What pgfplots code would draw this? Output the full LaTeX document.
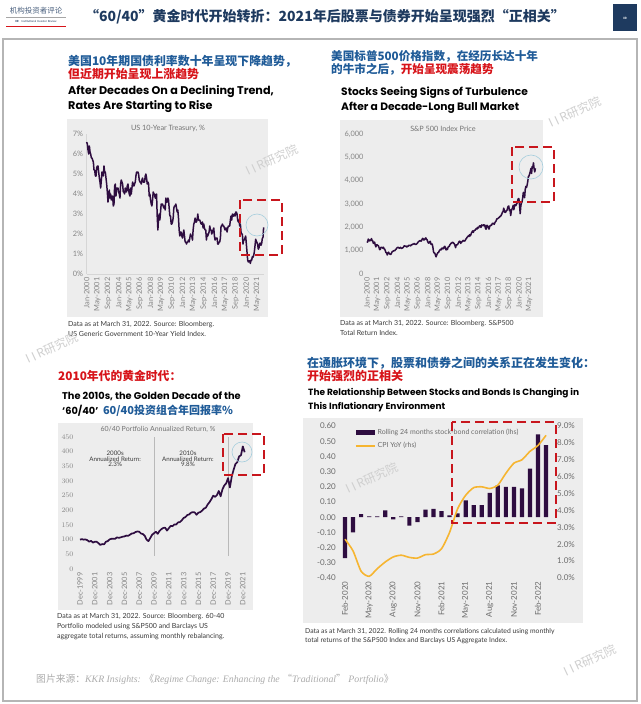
\documentclass[border=0pt]{standalone}
\usepackage{pgfplots}
\pgfplotsset{compat=1.18}
\usepackage{fontspec}
\setmainfont{Lato}
\newfontfamily\head{Poppins}
\newfontfamily\cjk{Noto Sans CJK SC}
\newfontfamily\serifit{Liberation Serif}
\newcommand\fs[1]{\fontsize{#1}{#1}\selectfont}
\definecolor{navy}{HTML}{1E3A5F}
\definecolor{hblue}{HTML}{1F5B98}
\definecolor{hred}{HTML}{D7141A}
\definecolor{purp}{HTML}{2E0D40}
\definecolor{gold}{HTML}{F6B531}
\definecolor{bgc}{HTML}{EDEDED}
\definecolor{tickc}{HTML}{858585}
\definecolor{srcc}{HTML}{3A3A3A}
\definecolor{redbox}{HTML}{C8161D}
\definecolor{circc}{HTML}{A6CEDD}
\definecolor{wm}{HTML}{CFCFCF}
\definecolor{gridc}{HTML}{D6D6D6}
\definecolor{framec}{HTML}{B5B5B5}
\pgfplotsset{
  panel/.style={scale only axis, anchor=south west, axis line style={draw=none},
    major tick length=0pt, tick label style={font=\fs{7.4}, text=tickc},
    xticklabel style={rotate=90, anchor=east}, clip=false},
}
\tikzset{redbox/.style={draw=redbox, line width=2.6pt, dash pattern=on 9pt off 5pt},
  circ/.style={draw=circc, line width=0.6pt},
  wmk/.style={text=wm, rotate=25, font=\cjk\fs{12}}}
\begin{document}
\begin{tikzpicture}[x=1pt,y=1pt]
\path[use as bounding box, fill=white] (0,0) rectangle (640,-704);
% header
\node[font=\cjk\fs{7.5}, text=navy!80, inner sep=0] at (36,-11) {机构投资者评论};
\draw[gray!70, line width=0.4pt] (6,-17) -- (66,-17);
\node[font=\fs{2.8}, text=navy, inner sep=0] at (36,-21.5) {\textbf{IIR}\quad Institutional Investor Review};
\draw[hred, line width=1pt] (6,-26) -- (66,-26);
\node[font=\cjk\bfseries\fs{14}, text=navy, inner sep=0] at (325,-17) {“60/40”黄金时代开始转折：2021年后股票与债券开始呈现强烈“正相关”};
\fill[navy] (613,-4) rectangle (637,-31);
\node[font=\fs{3}, text=white, inner sep=0] at (625,-18) {\textbf{IIR}};
\draw[framec, line width=1.5pt] (3,-39) rectangle (637,-701);

% ================= panel 1
\node[anchor=west, inner sep=0, font=\cjk\bfseries\fs{11.9}, text=hblue] at (68,-61.5) {美国10年期国债利率数十年呈现下降趋势，};
\node[anchor=west, inner sep=0, font=\cjk\bfseries\fs{11.9}, text=hred] at (68,-74) {但近期开始呈现上涨趋势};
\node[anchor=west, inner sep=0, font=\head\bfseries\fs{11.2}] at (68,-91.5) {After Decades On a Declining Trend,};
\node[anchor=west, inner sep=0, font=\head\bfseries\fs{11.2}] at (68,-106.5) {Rates Are Starting to Rise};
\fill[bgc] (67,-118.5) rectangle (268,-317);
\node[font=\fs{7.3}, text=gray!90!black] at (168,-128) {US 10-Year Treasury, \%};
\begin{axis}[panel, at={(86.7pt,-274pt)}, width=177.6pt, height=140pt,
  xmin=0, xmax=267, ymin=0, ymax=7,
  ytick={0,1,2,3,4,5,6,7}, yticklabels={0\%,1\%,2\%,3\%,4\%,5\%,6\%,7\%},
  xtick={0,16,...,256},
  xticklabels={Jan-2000,May-2001,Sep-2002,Jan-2004,May-2005,Sep-2006,Jan-2008,May-2009,Sep-2010,Jan-2012,May-2013,Sep-2014,Jan-2016,May-2017,Sep-2018,Jan-2020,May-2021}]
\draw[gridc, line width=0.5pt] (axis cs:0,0) -- (axis cs:267,0);
\draw[gridc, line width=0.5pt] (axis cs:0,0) -- (axis cs:0,7);
\addplot[purp, line width=1.5pt, no marks, line join=round] table[x expr=\coordindex, y index=0, header=false, row sep=\\] {
6.6\\6.5\\6.2\\6.0\\6.4\\6.1\\6.0\\5.8\\5.8\\5.7\\5.6\\5.2\\
5.2\\4.9\\4.9\\5.3\\5.4\\5.4\\5.1\\4.8\\4.6\\4.3\\4.7\\5.1\\
5.0\\4.9\\5.4\\5.1\\5.1\\4.8\\4.5\\4.1\\3.6\\3.9\\4.2\\3.8\\
4.0\\3.7\\3.8\\3.9\\3.4\\3.5\\4.4\\4.5\\3.9\\4.3\\4.3\\4.3\\
4.1\\4.0\\3.8\\4.5\\4.7\\4.6\\4.5\\4.1\\4.1\\4.0\\4.3\\4.2\\
4.1\\4.4\\4.5\\4.2\\4.0\\3.9\\4.3\\4.0\\4.3\\4.6\\4.5\\4.4\\
4.5\\4.6\\4.9\\5.1\\5.1\\5.1\\5.0\\4.7\\4.6\\4.6\\4.5\\4.7\\
4.8\\4.6\\4.6\\4.6\\4.9\\5.0\\4.8\\4.5\\4.6\\4.5\\3.9\\4.0\\
3.7\\3.5\\3.4\\3.7\\4.1\\4.0\\4.0\\3.8\\3.8\\4.0\\2.9\\2.2\\
2.8\\3.0\\2.7\\3.1\\3.5\\3.5\\3.5\\3.4\\3.3\\3.4\\3.2\\3.8\\
3.6\\3.6\\3.8\\3.7\\3.3\\2.9\\2.9\\2.5\\2.5\\2.6\\2.8\\3.3\\
3.4\\3.4\\3.5\\3.3\\3.1\\3.2\\2.8\\2.2\\1.9\\2.1\\2.1\\1.9\\
1.8\\2.0\\2.2\\1.9\\1.6\\1.6\\1.5\\1.6\\1.6\\1.7\\1.6\\1.8\\
2.0\\1.9\\1.9\\1.7\\2.2\\2.5\\2.6\\2.8\\2.6\\2.6\\2.7\\3.0\\
2.7\\2.7\\2.7\\2.6\\2.5\\2.5\\2.6\\2.3\\2.5\\2.3\\2.2\\2.2\\
1.7\\2.0\\1.9\\2.0\\2.1\\2.4\\2.2\\2.2\\2.0\\2.1\\2.2\\2.3\\
1.9\\1.7\\1.8\\1.8\\1.8\\1.5\\1.5\\1.6\\1.6\\1.8\\2.4\\2.4\\
2.5\\2.4\\2.4\\2.3\\2.2\\2.3\\2.3\\2.1\\2.3\\2.4\\2.4\\2.4\\
2.7\\2.9\\2.7\\3.0\\2.9\\2.9\\3.0\\2.9\\3.1\\3.1\\3.0\\2.7\\
2.6\\2.7\\2.4\\2.5\\2.1\\2.0\\2.0\\1.5\\1.7\\1.7\\1.8\\1.9\\
1.5\\1.1\\0.7\\0.6\\0.65\\0.66\\0.53\\0.7\\0.68\\0.87\\0.84\\0.92\\
1.1\\1.4\\1.74\\1.63\\1.58\\1.47\\1.24\\1.31\\1.52\\1.55\\1.44\\1.52\\
1.78\\1.83\\2.33\\
};
\end{axis}
\node[anchor=west, inner sep=0, font=\fs{7}, text=srcc] at (68,-325) {Data as at March 31, 2022. Source: Bloomberg.};
\node[anchor=west, inner sep=0, font=\fs{7}, text=srcc] at (68,-334) {US Generic Government 10-Year Yield Index.};
\draw[circ] (257,-225) circle (11);
\draw[redbox] (240,-200) rectangle (282,-255);

% ================= panel 2
\node[anchor=west, inner sep=0, font=\cjk\bfseries\fs{11.6}, text=hblue] at (331,-56) {美国标普500价格指数，在经历长达十年};
\node[anchor=west, inner sep=0, font=\cjk\bfseries\fs{11.6}, text=hblue] at (331,-69) {的牛市之后，\textcolor{hred}{开始呈现震荡趋势}};
\node[anchor=west, inner sep=0, font=\head\bfseries\fs{10.7}] at (341,-93) {Stocks Seeing Signs of Turbulence};
\node[anchor=west, inner sep=0, font=\head\bfseries\fs{10.7}] at (341,-108) {After a Decade-Long Bull Market};
\fill[bgc] (340,-120) rectangle (543,-317);
\node[font=\fs{7.3}, text=gray!90!black] at (443,-129) {S\&P 500 Index Price};
\begin{axis}[panel, at={(367pt,-274pt)}, width=169pt, height=140pt,
  xmin=0, xmax=267, ymin=0, ymax=6000,
  ytick={0,1000,2000,3000,4000,5000,6000}, yticklabels={0,{1,000},{2,000},{3,000},{4,000},{5,000},{6,000}},
  xtick={0,16,...,256},
  xticklabels={Jan-2000,May-2001,Sep-2002,Jan-2004,May-2005,Sep-2006,Jan-2008,May-2009,Sep-2010,Jan-2012,May-2013,Sep-2014,Jan-2016,May-2017,Sep-2018,Jan-2020,May-2021}]
\addplot[purp, line width=1.5pt, no marks, line join=round] table[x expr=\coordindex, y index=0, header=false, row sep=\\] {
1394\\1366\\1499\\1452\\1421\\1455\\1431\\1518\\1437\\1429\\1315\\1320\\
1366\\1240\\1160\\1249\\1256\\1224\\1211\\1134\\1041\\1060\\1139\\1148\\
1130\\1107\\1147\\1076\\1067\\990\\912\\916\\815\\886\\936\\880\\
856\\841\\848\\917\\964\\975\\990\\1008\\996\\1051\\1058\\1112\\
1131\\1145\\1126\\1107\\1121\\1141\\1102\\1104\\1115\\1130\\1174\\1212\\
1181\\1204\\1181\\1157\\1192\\1191\\1234\\1220\\1229\\1207\\1249\\1248\\
1280\\1281\\1295\\1311\\1270\\1270\\1277\\1304\\1336\\1378\\1401\\1418\\
1438\\1407\\1421\\1482\\1531\\1503\\1455\\1474\\1527\\1549\\1481\\1468\\
1379\\1331\\1323\\1386\\1400\\1280\\1267\\1283\\1165\\969\\896\\903\\
826\\735\\798\\873\\919\\919\\987\\1021\\1057\\1036\\1096\\1115\\
1074\\1104\\1169\\1187\\1089\\1031\\1102\\1049\\1141\\1183\\1181\\1258\\
1286\\1327\\1326\\1364\\1345\\1321\\1292\\1219\\1131\\1253\\1247\\1258\\
1312\\1366\\1408\\1398\\1310\\1362\\1379\\1407\\1441\\1412\\1416\\1426\\
1498\\1515\\1569\\1598\\1631\\1606\\1686\\1633\\1682\\1757\\1806\\1848\\
1783\\1859\\1872\\1884\\1924\\1960\\1931\\2003\\1972\\2018\\2068\\2059\\
1995\\2105\\2068\\2086\\2107\\2063\\2104\\1972\\1920\\2079\\2080\\2044\\
1940\\1932\\2060\\2065\\2097\\2099\\2174\\2171\\2168\\2126\\2199\\2239\\
2279\\2364\\2363\\2384\\2412\\2423\\2470\\2472\\2519\\2575\\2648\\2674\\
2824\\2714\\2641\\2648\\2705\\2718\\2816\\2902\\2914\\2712\\2760\\2507\\
2704\\2784\\2834\\2946\\2752\\2942\\2980\\2926\\2977\\3038\\3141\\3231\\
3226\\2954\\2585\\2912\\3044\\3100\\3271\\3500\\3363\\3270\\3622\\3756\\
3714\\3811\\3973\\4181\\4204\\4298\\4395\\4523\\4308\\4605\\4567\\4766\\
4516\\4374\\4530\\
};
\end{axis}
\node[anchor=west, inner sep=0, font=\fs{7}, text=srcc] at (340,-324) {Data as at March 31, 2022. Source: Bloomberg. S\&P500};
\node[anchor=west, inner sep=0, font=\fs{7}, text=srcc] at (340,-333) {Total Return Index.};
\draw[circ] (531,-167) circle (12);
\draw[redbox] (512,-147) rectangle (554,-202);

% ================= panel 3
\node[anchor=west, inner sep=0, font=\cjk\bfseries\fs{11.8}, text=hred] at (58,-376) {2010年代的黄金时代：};
\node[anchor=west, inner sep=0, font=\head\bfseries\fs{9.8}] at (62,-396) {The 2010s, the Golden Decade of the};
\node[anchor=west, inner sep=0, font=\head\bfseries\fs{9.8}] at (62,-411) {‘60/40’ \textcolor{hblue}{\cjk\fs{11} 60/40投资组合年回报率\%}};
\fill[bgc] (58,-423) rectangle (253,-610);
\node[font=\fs{7}, text=gray!90!black] at (158,-429) {60/40 Portfolio Annualized Return, \%};
\begin{axis}[panel, at={(80pt,-569pt)}, width=165.3pt, height=132pt,
  xmin=0, xmax=268, ymin=0, ymax=450,
  ytick={0,50,...,450},
  xtick={0,24,...,264},
  xticklabels={Dec-1999,Dec-2001,Dec-2003,Dec-2005,Dec-2007,Dec-2009,Dec-2011,Dec-2013,Dec-2015,Dec-2017,Dec-2019,Dec-2021},
  yticklabel style={xshift=-3pt}]
\draw[gray!55, line width=0.5pt] (axis cs:120,45) -- (axis cs:120,450);
\draw[gray!55, line width=0.5pt] (axis cs:240,45) -- (axis cs:240,450);
\node[font=\fs{6.2}, text=srcc, align=center, inner sep=0] at (axis cs:57,375) {2000s\\[-0.5pt]Annualized Return:\\[-0.5pt]2.3\%};
\node[font=\fs{6.2}, text=srcc, align=center, inner sep=0] at (axis cs:175,375) {2010s\\[-0.5pt]Annualized Return:\\[-0.5pt]9.8\%};
\addplot[purp, line width=1.7pt, no marks, line join=round] table[x expr=3*\coordindex, y index=0, header=false, row sep=\\] {
100\\102\\100\\101\\98\\93\\96\\90\\93\\93\\88\\82\\85\\84\\93\\95\\101\\103\\103\\103\\108\\
106\\108\\110\\111\\114\\113\\117\\121\\122\\126\\128\\127\\121\\119\\113\\100\\95\\106\\117\\122\\
127\\120\\130\\136\\140\\141\\131\\139\\147\\146\\152\\152\\159\\160\\166\\174\\177\\184\\186\\192\\
194\\193\\185\\192\\194\\199\\206\\209\\220\\228\\238\\250\\246\\252\\266\\248\\272\\285\\292\\310\\
278\\315\\338\\358\\364\\384\\388\\418\\398\\
};
\end{axis}
\node[anchor=west, inner sep=0, font=\fs{7}, text=srcc] at (57,-617) {Data as at March 31, 2022. Source: Bloomberg. 60-40};
\node[anchor=west, inner sep=0, font=\fs{7}, text=srcc] at (57,-627) {Portfolio modeled using S\&P500 and Barclays US};
\node[anchor=west, inner sep=0, font=\fs{7}, text=srcc] at (57,-637) {aggregate total returns, assuming monthly rebalancing.};
\draw[circ] (242,-452) circle (10);
\draw[redbox] (223,-434) rectangle (264,-475);

% ================= panel 4
\node[anchor=west, inner sep=0, font=\cjk\bfseries\fs{12}, text=hblue] at (307,-363) {在通胀环境下，股票和债券之间的关系正在发生变化：};
\node[anchor=west, inner sep=0, font=\cjk\bfseries\fs{12}, text=hred] at (307,-376) {开始强烈的正相关};
\node[anchor=west, inner sep=0, font=\head\bfseries\fs{9}] at (308,-393) {The Relationship Between Stocks and Bonds Is Changing in};
\node[anchor=west, inner sep=0, font=\head\bfseries\fs{9}] at (308,-407) {This Inflationary Environment};
\fill[bgc] (303,-418) rectangle (583,-623);
\begin{axis}[panel, at={(339.4pt,-578pt)}, width=212.3pt, height=152pt,
  xmin=-0.7, xmax=25.7, ymin=-0.4, ymax=0.6,
  ytick={-0.4,-0.3,...,0.6},
  yticklabels={-0.40,-0.30,-0.20,-0.10,0.00,0.10,0.20,0.30,0.40,0.50,0.60},
  xtick={0,3,...,24},
  xticklabels={Feb-2020,May-2020,Aug-2020,Nov-2020,Feb-2021,May-2021,Aug-2021,Nov-2021,Feb-2022},
  tick label style={font=\fs{8}, text=gray!85!black},
  legend style={at={(0.073,0.995)}, anchor=north west, draw=none, fill=none, font=\fs{7}, text=gray!85!black, row sep=2.5pt, inner sep=0pt, cells={anchor=west}},
  legend cell align=left]
\addplot[ybar, bar width=4.2pt, bar shift=0pt, fill=purp, draw=none,
  legend image code/.code={\fill[purp] (0pt,-2.3pt) rectangle (19pt,2.3pt);}]
  coordinates {(0,-0.27)(1,-0.10)(2,0.02)(3,0.006)(4,0.006)(5,0.045)(6,-0.015)(7,0.005)(8,-0.055)(9,-0.033)(10,0.05)(11,0.055)(12,0.04)(13,0.012)(14,0.025)(15,0.11)(16,0.08)(17,0.08)(18,0.16)(19,0.21)(20,0.20)(21,0.20)(22,0.19)(23,0.32)(24,0.545)(25,0.475)};
\addlegendentry{Rolling 24 months stock-bond correlation (lhs)}
\addlegendimage{gold, line width=1.6pt, legend image code/.code={\draw[gold, line width=1.6pt] (0pt,0pt) -- (19pt,0pt);}}
\addlegendentry{CPI YoY (rhs)}
\end{axis}
\begin{axis}[panel, at={(339.4pt,-578pt)}, width=212.3pt, height=152pt,
  xmin=-0.7, xmax=25.7, ymin=0, ymax=9, axis y line*=right, axis x line=none,
  ytick={0,1,...,9},
  yticklabels={0.0\%,1.0\%,2.0\%,3.0\%,4.0\%,5.0\%,6.0\%,7.0\%,8.0\%,9.0\%},
  tick label style={font=\fs{8}, text=gray!85!black}, yticklabel style={anchor=west, xshift=2pt}]
\addplot[gold, line width=1.6pt, no marks, smooth, tension=0.4] coordinates {(0,2.3)(1,1.6)(2,0.4)(3,0.1)(4,0.55)(5,0.95)(6,1.25)(7,1.35)(8,1.22)(9,1.18)(10,1.38)(11,1.42)(12,1.73)(13,2.7)(14,4.1)(15,4.9)(16,5.35)(17,5.4)(18,5.3)(19,5.5)(20,6.2)(21,6.8)(22,7.0)(23,7.5)(24,7.85)(25,8.45)};
\end{axis}
\draw[redbox] (452,-422) rectangle (556,-523);
\node[anchor=west, inner sep=0, font=\fs{6.8}, text=srcc] at (305,-632) {Data as at March 31, 2022. Rolling 24 months correlations calculated using monthly};
\node[anchor=west, inner sep=0, font=\fs{6.8}, text=srcc] at (305,-641) {total returns of the S\&P500 Index and Barclays US Aggregate Index.};

% watermarks
\node[wmk] at (272,-160) {I I R研究院};
\node[wmk] at (575,-112) {I I R研究院};
\node[wmk] at (52,-348) {I I R研究院};
\node[wmk] at (372,-478) {I I R研究院};
\node[wmk] at (590,-660) {I I R研究院};

% footer
\node[anchor=west, inner sep=0, font=\serifit\itshape\fs{9.8}, text=gray!65] at (36,-679) {{\cjk 图片来源：}KKR Insights: {\cjk 《}Regime Change: Enhancing the {\cjk “}Traditional{\cjk ”} Portfolio{\cjk 》}};
\end{tikzpicture}
\end{document}
